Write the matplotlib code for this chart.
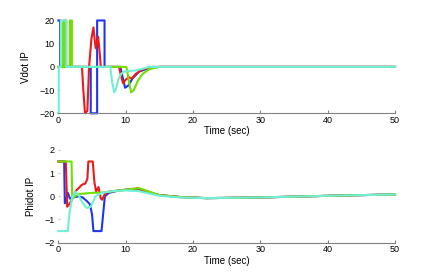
import matplotlib

matplotlib.use("Agg")

import matplotlib.pyplot as plt

# ---- data ----
# top panel: Vdot IP
t_vd_blue = [0, 0.25, 0.25, 4.8, 4.8, 5.75, 5.75, 6.85, 6.85, 9.2, 9.5, 9.9, 10.4, 11.0, 12.0, 13.5, 15, 50]
v_vd_blue = [20, 20, 0, 0, -20, -20, 20, 20, 0, 0, -4, -9, -8, -5, -2, -0.5, 0, 0]

t_vd_red = [0, 1.0, 1.0, 1.15, 1.15, 3.5, 3.7, 3.95, 4.3, 4.55, 4.9, 5.2, 5.45, 5.55, 5.9, 6.1, 6.3,
            9.0, 9.3, 9.6, 10.0, 10.5, 10.9, 11.5, 12.5, 14, 50]
v_vd_red = [0, 0, 20, 20, 0, 0, -10, -20, -19, 0, 12, 17, 10, 8, 13, 7, 0,
            0, -4, -7, -5.5, -4.5, -5, -3, -1, 0, 0]

t_vd_green = [0, 0.7, 0.7, 0.85, 0.85, 1.7, 1.7, 2.0, 2.0, 10.1, 10.4, 10.8, 11.2, 11.8, 12.5, 13.5, 15, 50]
v_vd_green = [0, 0, 20, 20, 0, 0, 20, 20, 0, 0, -5, -11, -10, -6, -3, -1, 0, 0]

t_vd_cyan = [0, 0.05, 0.05, 0.35, 0.35, 1.15, 1.15, 7.7, 8.0, 8.3, 8.6, 8.9, 9.3, 9.8, 10.5, 11.5, 12.5, 13.5, 50]
v_vd_cyan = [-20, -20, 0, 0, 20, 20, 0, 0, -7, -11, -9, -5.5, -3, -2, -1.8, -1.5, -0.8, 0, 0]

# bottom panel: Phidot IP
t_pd_blue = [0, 0.85, 0.95, 1.1, 1.4, 1.7, 2.2, 3.0, 3.6, 4.2, 4.7, 5.0, 5.2, 6.4, 6.9, 7.5, 9, 11,
             12, 13, 15, 18, 22, 30, 40, 50]
v_pd_blue = [1.5, 1.5, -0.3, -0.25, 0.15, -0.1, -0.05, 0, -0.05, -0.2, -0.35, -0.8, -1.5, -1.5, 0,
             0.15, 0.25, 0.32, 0.3, 0.2, 0.05, -0.03, -0.08, -0.05, 0.02, 0.08]

t_pd_red = [0, 1.1, 1.3, 1.6, 2.0, 2.5, 3.0, 3.5, 4.0, 4.3, 4.45, 5.1, 5.35, 5.6, 5.95, 6.3, 6.5, 6.9,
            7.5, 9, 11, 11.7, 13, 15, 18, 22, 30, 40, 50]
v_pd_red = [1.5, 1.5, -0.45, -0.35, -0.15, 0.2, 0.35, 0.5, 0.55, 0.75, 1.5, 1.5, 0.6, 0.2, 0.4, -0.1,
            -0.15, 0.1, 0.2, 0.25, 0.3, 0.35, 0.2, 0.05, -0.03, -0.08, -0.05, 0.02, 0.08]

t_pd_green = [0, 1.95, 2.05, 2.5, 3.0, 4, 5, 6, 7, 9, 10.5, 12, 13, 15, 18, 22, 30, 40, 50]
v_pd_green = [1.5, 1.5, -0.1, 0.0, 0.1, 0.12, 0.15, 0.15, 0.18, 0.25, 0.3, 0.35, 0.25, 0.05, -0.03,
              -0.08, -0.05, 0.02, 0.08]

t_pd_cyan = [0, 1.4, 1.6, 2.0, 2.5, 3.0, 3.6, 4.2, 4.8, 5.5, 6.5, 8, 10, 12, 13, 15, 18, 22, 30, 40, 50]
v_pd_cyan = [-1.5, -1.5, -0.8, -0.1, 0.2, 0.05, -0.3, -0.5, -0.45, 0.0, 0.15, 0.22, 0.25, 0.22, 0.15,
             0.02, -0.05, -0.08, -0.05, 0.02, 0.08]

x_ticks = [0, 10, 20, 30, 40, 50]
vd_ticks = [-20, -10, 0, 10, 20]
pd_ticks = [-2, -1, 0, 1, 2]

COLORS = {"blue": "#1f35f0", "red": "#ee1a1a", "green": "#6fe000", "cyan": "#6ff0d6"}

plt.rcParams.update({
    "font.family": ["Liberation Sans", "DejaVu Sans"],
    "font.size": 6.5,
})


def style_axis(ax, yticks, ylim):
    for side in ("top", "right", "left"):
        ax.spines[side].set_visible(False)
    ax.spines["bottom"].set_color("#808080")
    ax.spines["bottom"].set_linewidth(0.8)
    ax.set_xlim(0, 50)
    ax.set_ylim(*ylim)
    ax.set_xticks(x_ticks)
    ax.set_yticks(yticks)
    ax.tick_params(axis="x", direction="in", length=2.5, color="#808080", pad=2, labelsize=6.5)
    ax.tick_params(axis="y", direction="in", length=1.5, color="#c8c8c8", pad=3, labelsize=6.5)
    ax.set_xlabel("Time (sec)", fontsize=7, labelpad=1)


fig = plt.figure(figsize=(4.36, 2.73), dpi=100)
ax1 = fig.add_axes([0.134, 0.585, 0.772, 0.34])
ax2 = fig.add_axes([0.134, 0.111, 0.772, 0.34])

lw = 1.5
ax1.plot(t_vd_blue, v_vd_blue, color=COLORS["blue"], lw=lw, clip_on=False)
ax1.plot(t_vd_red, v_vd_red, color=COLORS["red"], lw=lw, clip_on=False)
ax1.plot(t_vd_green, v_vd_green, color=COLORS["green"], lw=lw, clip_on=False)
ax1.plot(t_vd_cyan, v_vd_cyan, color=COLORS["cyan"], lw=lw, clip_on=False)
style_axis(ax1, vd_ticks, (-20, 20))
ax1.set_ylabel("Vdot IP", fontsize=7, labelpad=6)

ax2.plot(t_pd_blue, v_pd_blue, color=COLORS["blue"], lw=lw, clip_on=False)
ax2.plot(t_pd_red, v_pd_red, color=COLORS["red"], lw=lw, clip_on=False)
ax2.plot(t_pd_green, v_pd_green, color=COLORS["green"], lw=lw, clip_on=False)
ax2.plot(t_pd_cyan, v_pd_cyan, color=COLORS["cyan"], lw=lw, clip_on=False)
style_axis(ax2, pd_ticks, (-2, 2))
ax2.set_ylabel("Phidot IP", fontsize=7, labelpad=6)

fig.savefig("out.png", dpi=100)
